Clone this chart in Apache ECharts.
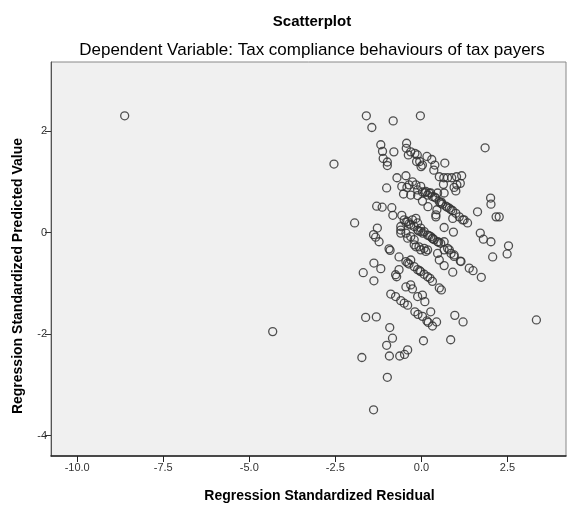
<!DOCTYPE html>
<html>
<head>
<meta charset="utf-8">
<script src="https://cdn.jsdelivr.net/npm/echarts@6/dist/echarts.min.js"></script>
<style>
html,body{margin:0;padding:0;background:#fff;}
#chart{width:574px;height:506px;}
</style>
</head>
<body>
<div id="chart"></div>
<script>
var titleText = "Scatterplot";
var subtitleText = "Dependent Variable: Tax compliance behaviours of tax payers";
var xAxisTitle = "Regression Standardized Residual";
var yAxisTitle = "Regression Standardized Predicted Value";
var xTicks = [-10, -7.5, -5, -2.5, 0, 2.5];
var yTicks = [-4, -2, 0, 2];

var residuals = [
-8.62,-4.32,-2.54,-1.94,3.34,1.85,-1.39,-1.60,-0.82,-0.03,
-1.44,-1.18,-1.13,-1.11,-0.99,-0.99,-0.80,-0.43,-0.44,-0.38,
-0.31,-0.19,-0.12,-0.05,-0.01,0.03,0.16,0.30,0.39,0.36,
0.68,-0.14,0.52,0.65,0.76,0.88,1.02,1.17,0.64,0.95,
1.03,1.13,1.00,2.01,2.02,1.63,2.17,2.26,-0.71,-0.45,
-1.01,-0.57,-0.42,-0.36,-0.26,-0.16,-0.11,-0.02,0.03,0.13,
0.18,-0.52,-0.31,-0.11,0.03,0.19,0.22,0.32,0.42,0.52,
0.61,0.71,0.81,0.91,1.00,1.10,1.24,1.34,0.27,0.47,
0.66,0.45,0.42,0.56,-1.30,-1.14,-0.86,-0.83,-0.57,-0.16,
-0.40,-0.26,-0.11,-0.02,0.08,-0.60,-0.45,-0.31,-0.21,-0.07,
0.08,0.18,-0.50,-0.31,-0.21,-0.11,-0.02,0.18,0.27,0.37,
0.47,0.56,0.66,0.76,0.86,0.95,1.15,0.32,0.42,0.91,
1.20,0.66,0.93,1.71,1.80,2.02,2.53,2.49,2.07,-0.60,
-0.60,-0.40,-0.21,-0.16,-0.02,0.13,0.47,0.52,0.66,0.66,
0.81,0.95,1.13,0.91,1.39,1.50,1.74,-1.28,-1.39,-1.33,
-1.23,-0.94,-0.91,-0.65,-1.38,-1.18,-1.69,-1.38,-0.65,-0.75,
-0.72,-0.45,-0.36,-0.31,-0.21,-0.11,-0.02,0.08,0.18,0.32,
0.52,0.58,-0.89,-0.75,-0.60,-0.50,-0.40,-0.31,-0.26,-0.11,
0.03,0.10,-0.45,-0.19,-0.10,0.03,0.16,0.20,0.32,0.44,
0.27,0.97,1.21,-1.62,-1.31,-0.92,-0.84,-1.01,-1.73,-0.93,
-0.63,-0.49,-0.40,-0.99,0.06,0.85,-0.45,-0.36,-0.08,0.04,
0.22,0.33,0.50,0.10,0.38,0.58,0.75,0.86,-0.40,-0.05,
0.25
];
var predicted = [
2.30,-1.95,1.35,0.19,-1.72,1.67,-3.49,2.30,2.20,2.30,
2.07,1.73,1.60,1.46,1.39,1.32,1.59,1.76,1.66,1.53,
1.59,1.56,1.53,1.40,1.30,1.33,1.50,1.44,1.33,1.23,
1.37,1.40,1.10,1.08,1.08,1.08,1.10,1.12,0.95,0.89,
0.94,0.97,0.82,0.68,0.56,0.41,0.31,0.31,1.08,1.12,
0.88,0.91,0.89,0.94,1.00,0.94,0.84,0.91,0.80,0.81,
0.74,0.76,0.74,0.73,0.62,0.51,0.78,0.71,0.68,0.61,
0.56,0.52,0.48,0.43,0.38,0.31,0.25,0.19,0.78,0.78,
0.78,0.45,0.35,0.58,0.52,0.50,0.49,0.34,0.34,0.28,
0.22,0.25,0.19,0.09,0.02,0.05,-0.01,-0.08,-0.24,-0.28,
-0.31,-0.34,0.25,0.15,0.12,0.05,0.02,-0.05,-0.08,-0.14,
-0.18,-0.21,-0.18,-0.31,-0.41,-0.44,-0.57,-0.11,0.31,0.28,
0.25,0.10,0.01,-0.01,-0.13,-0.18,-0.26,-0.42,-0.48,0.12,
-0.01,-0.11,-0.14,-0.28,-0.34,-0.37,-0.41,-0.54,-0.65,-0.34,
-0.34,-0.47,-0.56,-0.78,-0.70,-0.75,-0.88,0.09,-0.04,-0.09,
-0.18,-0.32,-0.35,-0.48,-0.60,-0.71,-0.79,-0.95,-0.73,-0.83,
-0.87,-0.57,-0.62,-0.54,-0.67,-0.73,-0.77,-0.82,-0.87,-0.96,
-1.09,-1.13,-1.21,-1.26,-1.34,-1.39,-1.43,-1.03,-1.11,-1.26,
-1.23,-1.36,-1.07,-1.56,-1.61,-1.65,-1.74,-1.77,-1.84,-1.76,
-1.56,-1.63,-1.76,-1.67,-1.66,-1.87,-2.08,-2.22,-2.46,-2.43,
-2.43,-2.40,-2.31,-2.85,-2.13,-2.11,0.20,0.17,0.03,-0.01,
-0.06,-0.12,-0.19,0.79,0.70,0.60,0.50,0.45,-0.60,-0.75,
-0.90
];

var points = residuals.map(function (r, i) { return [r, predicted[i]]; });

var chart = echarts.init(document.getElementById('chart'), null, {renderer: 'canvas'});
var fontFam = '"Liberation Sans", Arial, sans-serif';
chart.setOption({
  animation: false,
  backgroundColor: '#ffffff',
  title: [
    {text: titleText, left: 307, top: 9, textAlign: 'center',
     textStyle: {fontFamily: fontFam, fontSize: 15, fontWeight: 'bold', color: '#000'}},
    {text: subtitleText, left: 307, top: 37, textAlign: 'center',
     textStyle: {fontFamily: fontFam, fontSize: 17, fontWeight: 'normal', color: '#000'}}
  ],
  grid: {left: 51, top: 62, right: 8, bottom: 50, show: true,
         containLabel: false, outerBoundsMode: 'none',
         backgroundColor: '#f0f0f0', borderColor: '#888', borderWidth: 1},
  xAxis: {
    type: 'value', min: -10.76, max: 4.2,
    name: xAxisTitle, nameLocation: 'middle', nameGap: 33,
    nameTextStyle: {fontFamily: fontFam, fontSize: 14, fontWeight: 'bold', color: '#000',
      padding: [0, 0, 0, 22]},
    splitLine: {show: false},
    axisLine: {show: true, onZero: false, lineStyle: {color: '#222', width: 1.5}},
    axisTick: {show: true, length: 6, customValues: xTicks, lineStyle: {color: '#222'}},
    axisLabel: {customValues: xTicks, margin: 6, fontFamily: fontFam, fontSize: 11, color: '#333',
      formatter: function (v) { return v.toFixed(1); }}
  },
  yAxis: {
    type: 'value', min: -4.40, max: 3.36,
    name: yAxisTitle, nameLocation: 'middle', nameGap: 26,
    nameTextStyle: {fontFamily: fontFam, fontSize: 14, fontWeight: 'bold', color: '#000',
      padding: [0, 34, 0, 0]},
    splitLine: {show: false},
    axisLine: {show: true, onZero: false, lineStyle: {color: '#555', width: 1}},
    axisTick: {show: true, length: 6, customValues: yTicks, lineStyle: {color: '#333'}},
    axisLabel: {customValues: yTicks, margin: 4, fontFamily: fontFam, fontSize: 11, color: '#333',
      formatter: function (v) { return String(Math.round(v)); }}
  },
  series: [{
    type: 'scatter',
    data: points,
    symbol: 'circle',
    symbolSize: 8,
    itemStyle: {color: 'rgba(0,0,0,0)', borderColor: '#333', borderWidth: 1.3, opacity: 0.85}
  }]
});
</script>
</body>
</html>
